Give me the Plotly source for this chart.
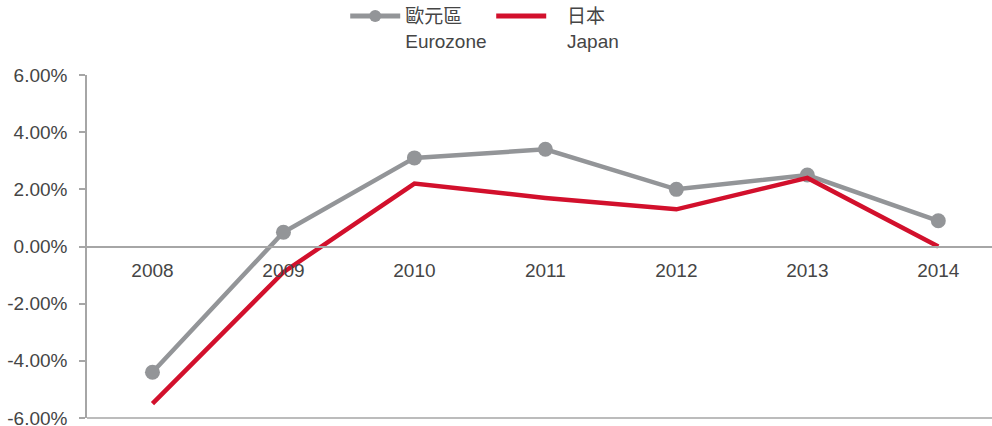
import plotly.graph_objects as go

years = ["2008", "2009", "2010", "2011", "2012", "2013", "2014"]
eurozone = [-4.4, 0.5, 3.1, 3.4, 2.0, 2.5, 0.9]
japan = [-5.5, -0.9, 2.2, 1.7, 1.3, 2.4, 0.0]
y_ticks = [-6, -4, -2, 0, 2, 4, 6]
y_tick_labels = ["-6.00%", "-4.00%", "-2.00%", "0.00%", "2.00%", "4.00%", "6.00%"]

GRAY = "#939598"
RED = "#D2102C"
AXIS = "#A6A6A6"
TEXT = "#454545"
FONT = "Liberation Sans, Noto Sans CJK TC, sans-serif"
FS = 19

fig = go.Figure()
fig.add_trace(go.Scatter(
    x=years, y=eurozone, name="歐元區<br>Eurozone", mode="lines+markers",
    line=dict(color=GRAY, width=4.5), marker=dict(color=GRAY, size=15),
))
fig.add_trace(go.Scatter(
    x=years, y=japan, name="&nbsp;&nbsp;&nbsp;日本<br>&nbsp;&nbsp;&nbsp;Japan", mode="lines",
    line=dict(color=RED, width=4.5),
))

fig.update_layout(
    width=992, height=426,
    margin=dict(l=87, r=0, t=75, b=8, autoexpand=False),
    paper_bgcolor="white", plot_bgcolor="white",
    font=dict(family=FONT, size=FS, color=TEXT),
    showlegend=True,
    legend=dict(
        orientation="h", xref="container", yref="paper",
        x=0.348, xanchor="left", y=1.227, yanchor="top",
        valign="top", itemwidth=50, entrywidth=81, entrywidthmode="pixels",
        itemsizing="constant",
        font=dict(family=FONT, size=FS, color=TEXT),
        bgcolor="rgba(0,0,0,0)",
    ),
    xaxis=dict(
        type="category", range=[-0.5, 6.41],
        anchor="free", position=0.5, automargin=False,
        showline=True, linecolor=AXIS, linewidth=1.5,
        showgrid=False, zeroline=False, ticks="",
        ticklabelstandoff=7,
        tickfont=dict(family=FONT, size=FS, color=TEXT),
    ),
    yaxis=dict(
        range=[-6, 6], tickvals=y_ticks, ticktext=y_tick_labels,
        automargin=False, ticklabeloverflow="allow",
        showline=True, linecolor=AXIS, linewidth=1.5,
        ticks="outside", ticklen=6, tickcolor=AXIS, tickwidth=1.5,
        ticklabelstandoff=8,
        showgrid=False, zeroline=False,
        tickfont=dict(family=FONT, size=FS, color=TEXT),
    ),
    shapes=[dict(type="line", xref="paper", yref="paper", x0=0, x1=1, y0=0, y1=0,
                 line=dict(color=AXIS, width=1.5), layer="below")],
)

fig.write_html("out.html", config={"displayModeBar": False},
               post_script="document.body.style.margin='0';")
